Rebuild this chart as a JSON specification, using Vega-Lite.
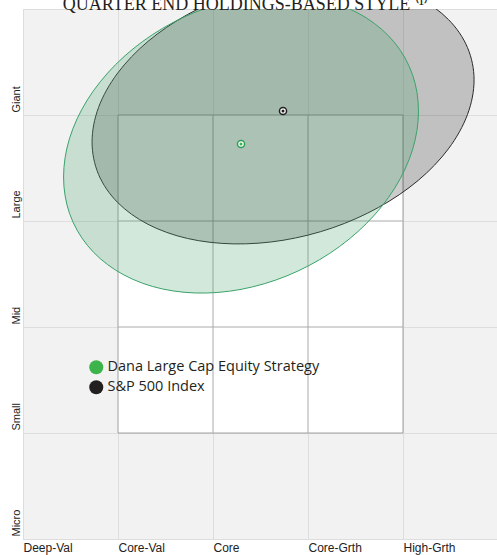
{
  "$schema": "https://vega.github.io/schema/vega-lite/v6.json",
  "width": 475,
  "height": 530,
  "autosize": {"type": "none"},
  "padding": {"left": 23, "top": 9, "right": 0, "bottom": 16},
  "background": "#ffffff",
  "config": {
    "view": {"fill": "#f2f2f2", "stroke": "#dddddd"},
    "font": "Liberation Sans"
  },
  "title": {
    "text": "QUARTER END HOLDINGS-BASED STYLE ⁽¹⁾",
    "font": "Liberation Serif",
    "fontSize": 18,
    "fontWeight": "normal",
    "color": "#231f20",
    "anchor": "middle",
    "frame": "group",
    "baseline": "alphabetic",
    "offset": 1,
    "dx": -15,
    "dy": 20
  },
  "datasets": {
    "box": [{"x": 1, "x2": 4, "y": 1, "y2": 4}],
    "vlines": [{"x": 2}, {"x": 3}],
    "hlines": [{"y": 2}, {"y": 3}],
    "ellipses": [
      {"s": "S&P 500 Index", "i": 0, "x": 4.748, "y": 4.331},
      {"s": "S&P 500 Index", "i": 1, "x": 4.679, "y": 4.005},
      {"s": "S&P 500 Index", "i": 2, "x": 4.478, "y": 3.681},
      {"s": "S&P 500 Index", "i": 3, "x": 4.159, "y": 3.382},
      {"s": "S&P 500 Index", "i": 4, "x": 3.742, "y": 3.128},
      {"s": "S&P 500 Index", "i": 5, "x": 3.257, "y": 2.935},
      {"s": "S&P 500 Index", "i": 6, "x": 2.737, "y": 2.818},
      {"s": "S&P 500 Index", "i": 7, "x": 2.217, "y": 2.784},
      {"s": "S&P 500 Index", "i": 8, "x": 1.732, "y": 2.835},
      {"s": "S&P 500 Index", "i": 9, "x": 1.315, "y": 2.969},
      {"s": "S&P 500 Index", "i": 10, "x": 0.996, "y": 3.175},
      {"s": "S&P 500 Index", "i": 11, "x": 0.795, "y": 3.44},
      {"s": "S&P 500 Index", "i": 12, "x": 0.727, "y": 3.746},
      {"s": "S&P 500 Index", "i": 13, "x": 0.795, "y": 4.071},
      {"s": "S&P 500 Index", "i": 14, "x": 0.996, "y": 4.395},
      {"s": "S&P 500 Index", "i": 15, "x": 1.315, "y": 4.694},
      {"s": "S&P 500 Index", "i": 16, "x": 1.732, "y": 4.948},
      {"s": "S&P 500 Index", "i": 17, "x": 2.217, "y": 5.141},
      {"s": "S&P 500 Index", "i": 18, "x": 2.737, "y": 5.258},
      {"s": "S&P 500 Index", "i": 19, "x": 3.257, "y": 5.292},
      {"s": "S&P 500 Index", "i": 20, "x": 3.742, "y": 5.241},
      {"s": "S&P 500 Index", "i": 21, "x": 4.159, "y": 5.107},
      {"s": "S&P 500 Index", "i": 22, "x": 4.478, "y": 4.901},
      {"s": "S&P 500 Index", "i": 23, "x": 4.679, "y": 4.636},
      {"s": "Dana Large Cap Equity Strategy", "i": 0, "x": 4.163, "y": 4.037},
      {"s": "Dana Large Cap Equity Strategy", "i": 1, "x": 4.1, "y": 3.672},
      {"s": "Dana Large Cap Equity Strategy", "i": 2, "x": 3.913, "y": 3.31},
      {"s": "Dana Large Cap Equity Strategy", "i": 3, "x": 3.616, "y": 2.977},
      {"s": "Dana Large Cap Equity Strategy", "i": 4, "x": 3.229, "y": 2.695},
      {"s": "Dana Large Cap Equity Strategy", "i": 5, "x": 2.779, "y": 2.483},
      {"s": "Dana Large Cap Equity Strategy", "i": 6, "x": 2.295, "y": 2.355},
      {"s": "Dana Large Cap Equity Strategy", "i": 7, "x": 1.812, "y": 2.321},
      {"s": "Dana Large Cap Equity Strategy", "i": 8, "x": 1.361, "y": 2.383},
      {"s": "Dana Large Cap Equity Strategy", "i": 9, "x": 0.974, "y": 2.537},
      {"s": "Dana Large Cap Equity Strategy", "i": 10, "x": 0.677, "y": 2.771},
      {"s": "Dana Large Cap Equity Strategy", "i": 11, "x": 0.49, "y": 3.071},
      {"s": "Dana Large Cap Equity Strategy", "i": 12, "x": 0.427, "y": 3.415},
      {"s": "Dana Large Cap Equity Strategy", "i": 13, "x": 0.49, "y": 3.78},
      {"s": "Dana Large Cap Equity Strategy", "i": 14, "x": 0.677, "y": 4.142},
      {"s": "Dana Large Cap Equity Strategy", "i": 15, "x": 0.974, "y": 4.475},
      {"s": "Dana Large Cap Equity Strategy", "i": 16, "x": 1.361, "y": 4.757},
      {"s": "Dana Large Cap Equity Strategy", "i": 17, "x": 1.812, "y": 4.97},
      {"s": "Dana Large Cap Equity Strategy", "i": 18, "x": 2.295, "y": 5.097},
      {"s": "Dana Large Cap Equity Strategy", "i": 19, "x": 2.779, "y": 5.131},
      {"s": "Dana Large Cap Equity Strategy", "i": 20, "x": 3.229, "y": 5.069},
      {"s": "Dana Large Cap Equity Strategy", "i": 21, "x": 3.616, "y": 4.915},
      {"s": "Dana Large Cap Equity Strategy", "i": 22, "x": 3.913, "y": 4.681},
      {"s": "Dana Large Cap Equity Strategy", "i": 23, "x": 4.1, "y": 4.381}
    ],
    "points": [
      {"s": "Dana Large Cap Equity Strategy", "x": 2.295, "y": 3.726},
      {"s": "S&P 500 Index", "x": 2.737, "y": 4.038}
    ]
  },
  "layer": [
    {
      "data": {"name": "box"},
      "mark": {"type": "rect", "fill": "#ffffff", "stroke": "#a0a0a0", "strokeWidth": 1},
      "encoding": {
        "x": {
          "field": "x", "type": "quantitative",
          "scale": {"domain": [0, 5], "nice": false, "zero": false},
          "axis": {
            "title": null,
            "values": [0, 1, 2, 3, 4],
            "labelExpr": "['Deep-Val','Core-Val','Core','Core-Grth','High-Grth'][datum.value]",
            "labelAlign": "left",
            "labelFontSize": 12,
            "labelColor": "#222222",
            "labelPadding": 3,
            "labelFlush": false,
            "labelOverlap": false,
            "ticks": false,
            "domain": false,
            "grid": true,
            "gridColor": "#dddddd",
            "gridWidth": 1
          }
        },
        "x2": {"field": "x2"},
        "y": {
          "field": "y", "type": "quantitative",
          "scale": {"domain": [0, 5], "nice": false, "zero": false},
          "axis": {
            "title": null,
            "values": [0, 1, 2, 3, 4],
            "labelExpr": "['Micro','Small','Mid','Large','Giant'][datum.value]",
            "labelAngle": 270,
            "labelAlign": "left",
            "labelBaseline": "alphabetic",
            "labelFontSize": 11,
            "labelColor": "#222222",
            "labelPadding": 4,
            "labelOffset": -3,
            "labelFlush": false,
            "labelOverlap": false,
            "labelBound": false,
            "ticks": false,
            "domain": false,
            "grid": true,
            "gridColor": "#dddddd",
            "gridWidth": 1
          }
        },
        "y2": {"field": "y2"}
      }
    },
    {
      "data": {"name": "vlines"},
      "mark": {"type": "rule", "stroke": "#aaaaaa", "strokeWidth": 1},
      "encoding": {
        "x": {"field": "x", "type": "quantitative"},
        "y": {"datum": 1, "type": "quantitative"},
        "y2": {"datum": 4}
      }
    },
    {
      "data": {"name": "hlines"},
      "mark": {"type": "rule", "stroke": "#aaaaaa", "strokeWidth": 1},
      "encoding": {
        "y": {"field": "y", "type": "quantitative"},
        "x": {"datum": 1, "type": "quantitative"},
        "x2": {"datum": 4}
      }
    },
    {
      "data": {"name": "ellipses"},
      "transform": [{"filter": "datum.s === 'S&P 500 Index'"}],
      "mark": {"type": "line", "interpolate": "cardinal-closed", "clip": true, "fill": "#000000", "fillOpacity": 0.2, "stroke": "#2b2b2b", "strokeWidth": 1},
      "encoding": {
        "x": {"field": "x", "type": "quantitative"},
        "y": {"field": "y", "type": "quantitative"},
        "order": {"field": "i", "type": "quantitative"}
      }
    },
    {
      "data": {"name": "ellipses"},
      "transform": [{"filter": "datum.s === 'Dana Large Cap Equity Strategy'"}],
      "mark": {"type": "line", "interpolate": "cardinal-closed", "clip": true, "fill": "#47a36e", "fillOpacity": 0.25, "stroke": "#3aa36a", "strokeWidth": 1},
      "encoding": {
        "x": {"field": "x", "type": "quantitative"},
        "y": {"field": "y", "type": "quantitative"},
        "order": {"field": "i", "type": "quantitative"}
      }
    },
    {
      "data": {"name": "points"},
      "transform": [{"filter": "datum.s === 'Dana Large Cap Equity Strategy'"}],
      "mark": {"type": "point", "shape": "circle", "filled": false, "fill": "#ffffff", "fillOpacity": 1, "stroke": "#2e9e5a", "size": 50, "strokeWidth": 1.5, "opacity": 1},
      "encoding": {
        "x": {"field": "x", "type": "quantitative"},
        "y": {"field": "y", "type": "quantitative"}
      }
    },
    {
      "data": {"name": "points"},
      "transform": [{"filter": "datum.s === 'S&P 500 Index'"}],
      "mark": {"type": "point", "shape": "circle", "filled": false, "fill": "#ffffff", "fillOpacity": 1, "stroke": "#231f20", "size": 50, "strokeWidth": 1.5, "opacity": 1},
      "encoding": {
        "x": {"field": "x", "type": "quantitative"},
        "y": {"field": "y", "type": "quantitative"}
      }
    },
    {
      "data": {"name": "points"},
      "mark": {"type": "point", "shape": "circle", "filled": true, "size": 9, "opacity": 1, "strokeWidth": 0},
      "encoding": {
        "x": {"field": "x", "type": "quantitative"},
        "y": {"field": "y", "type": "quantitative"},
        "color": {
          "field": "s", "type": "nominal",
          "scale": {"domain": ["Dana Large Cap Equity Strategy", "S&P 500 Index"], "range": ["#3cb44b", "#231f20"]},
          "legend": {
            "title": null,
            "orient": "none",
            "legendX": 66,
            "legendY": 351,
            "padding": 0,
            "symbolType": "circle",
            "symbolSize": 196,
            "symbolStrokeWidth": 0,
            "symbolOpacity": 1,
            "labelFont": "Open Sans",
            "labelFontSize": 14.5,
            "labelColor": "#231f20",
            "labelOffset": 4,
            "rowPadding": 4,
            "labelLimit": 400
          }
        }
      }
    }
  ]
}
